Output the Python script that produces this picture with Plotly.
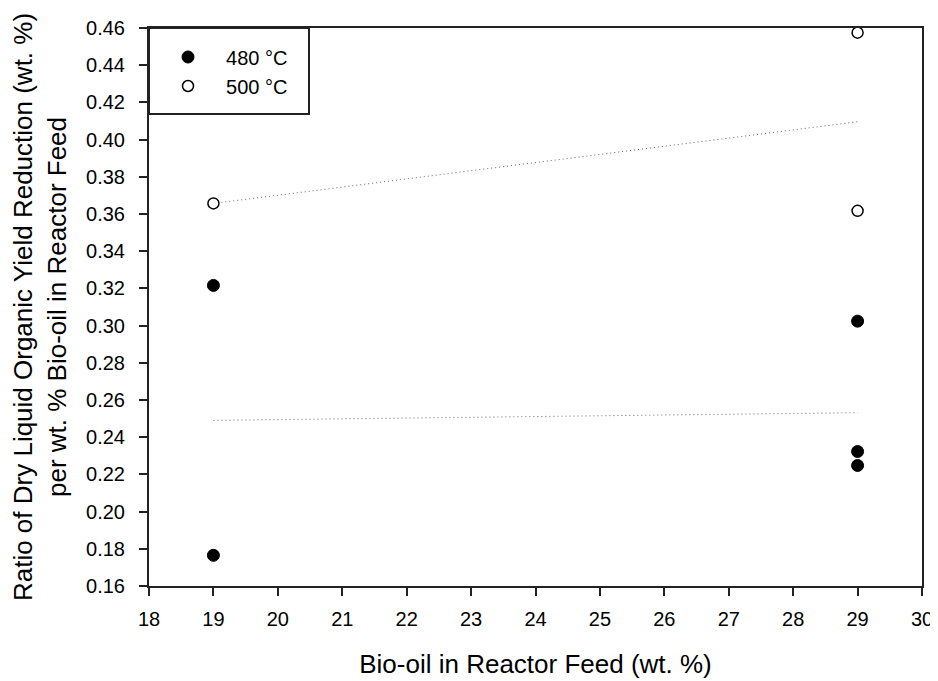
import numpy as np
import plotly.graph_objects as go

# Data
x_480 = [19, 19, 29, 29, 29]
y_480 = [0.3216, 0.1765, 0.3024, 0.2323, 0.2248]
x_500 = [19, 29, 29]
y_500 = [0.3657, 0.4575, 0.3617]
series_names = ["480 °C", "500 °C"]
x_ticks = list(range(18, 31))
y_ticks = [round(0.16 + 0.02 * i, 2) for i in range(16)]

FONT = "Liberation Sans, Arial, sans-serif"

def fit_line(xs, ys):
    k, b = np.polyfit(xs, ys, 1)
    xl = [min(xs), max(xs)]
    return xl, [k * v + b for v in xl]

fig = go.Figure()

for xs, ys in [(x_480, y_480), (x_500, y_500)]:
    xl, yl = fit_line(xs, ys)
    fig.add_trace(go.Scatter(x=xl, y=yl, mode="lines", showlegend=False,
                             line=dict(color="#666666", width=1, dash="1px,3px"),
                             hoverinfo="skip"))

fig.add_trace(go.Scatter(x=x_480, y=y_480, mode="markers", name=series_names[0],
                         marker=dict(symbol="circle", size=12, color="black",
                                     line=dict(color="black", width=1))))
fig.add_trace(go.Scatter(x=x_500, y=y_500, mode="markers", name=series_names[1],
                         marker=dict(symbol="circle", size=11, color="white",
                                     line=dict(color="black", width=1.5))))

axis_common = dict(showgrid=False, zeroline=False, showline=True, linecolor="#222222",
                   linewidth=2, mirror=True, ticks="outside", ticklen=8, tickwidth=1.5,
                   tickcolor="#222222", tickfont=dict(family=FONT, size=20, color="black"))

fig.update_xaxes(range=[18, 30], tickvals=x_ticks, ticklabelstandoff=6, **axis_common,
                 title=dict(text="Bio-oil in Reactor Feed (wt. %)",
                            font=dict(family=FONT, size=26, color="black"), standoff=26))
fig.update_yaxes(range=[0.16, 0.46], tickvals=y_ticks, tickformat=".2f",
                 ticklabelstandoff=10, **axis_common,
                 title=dict(text="Ratio of Dry Liquid Organic Yield Reduction (wt. %)<br>per wt. % Bio-oil in Reactor Feed",
                            font=dict(family=FONT, size=26, color="black"), standoff=13))

# legend frame
fig.add_shape(type="rect", xref="paper", yref="paper", x0=0, x1=(309 - 149) / 773,
              y0=1 - (114 - 28) / 558, y1=1, line=dict(color="#222222", width=2),
              fillcolor="rgba(0,0,0,0)")

fig.update_layout(
    width=930, height=673,
    margin=dict(l=141, r=16, t=20, b=95, autoexpand=False),
    paper_bgcolor="white", plot_bgcolor="white",
    font=dict(family=FONT, color="black"),
    legend=dict(x=0.0013, y=0.983, xanchor="left", yanchor="top",
                bgcolor="rgba(0,0,0,0)", borderwidth=0, itemwidth=66,
                font=dict(family=FONT, size=20, color="black")),
)

fig.write_html("out.html")
